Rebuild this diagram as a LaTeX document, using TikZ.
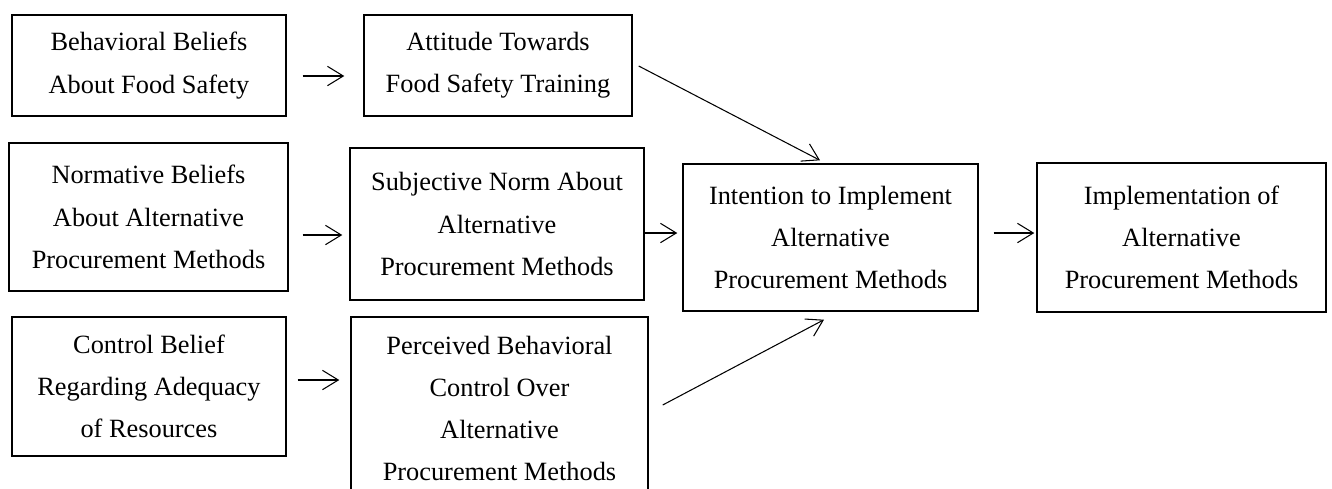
\documentclass[tikz,border=0pt]{standalone}
\usepackage{fontspec}
\setmainfont{Liberation Serif}
\usetikzlibrary{arrows.meta,calc}
\begin{document}
\begin{tikzpicture}[x=0.02cm, y=-0.02cm,
    box/.style 2 args={draw, line width=0.8pt, inner sep=0pt, align=center,
      minimum width=#1*0.02cm, minimum height=#2*0.02cm,
      font=\fontsize{15}{24}\selectfont},
    arr/.style={-{Straight Barb[length=9pt, width=11pt]}, line width=0.6pt}]
    \useasboundingbox (0,0) rectangle (1332,488);
    \clip (0,0) rectangle (1332,488);
    \node[box={274}{101}] (bb) at (149,65.5) {Behavioral Beliefs\\About Food Safety};
    \node[box={268}{101}] (att) at (498,65.5) {Attitude Towards\\Food Safety Training};
    \node[box={279}{148}] (nb) at (148.5,217) {Normative Beliefs\\About Alternative\\Procurement Methods};
    \node[box={294}{152}] (sn) at (497,224) {Subjective Norm About\\Alternative\\Procurement Methods};
    \node[box={274}{139}] (cb) at (149,386.5) {Control Belief\\Regarding Adequacy\\of Resources};
    \node[box={297}{183}] (pbc) at (499.5,408.5) {Perceived Behavioral\\Control Over\\Alternative\\Procurement Methods};
    \node[box={295}{147}] (int) at (830.5,237.5) {Intention to Implement\\Alternative\\Procurement Methods};
    \node[box={289}{149}] (imp) at (1181.5,237.5) {Implementation of\\Alternative\\Procurement Methods};
    \draw[arr] ($(bb.east)+(16,10.5)$) -- ($(att.west)+(-19,10.5)$);
    \draw[arr] ($(nb.east)+(14,18)$) -- ($(sn.west)+(-7,11)$);
    \draw[arr] ($(cb.east)+(11,-6.5)$) -- ($(pbc.west)+(-11,-28.5)$);
    \draw[arr] ($(sn.east)+(0,9)$) -- ($(int.west)+(-5,-4.5)$);
    \draw[arr] ($(int.east)+(15,-4.5)$) -- ($(imp.west)+(-2,-4.5)$);
    \draw[arr] ($(att.east)+(6,0.5)$) -- ($(int.north)+(-10.5,-3)$);
    \draw[arr] ($(pbc.east)+(14,-3.5)$) -- ($(int.south)+(-6.5,8)$);
\end{tikzpicture}
\end{document}
